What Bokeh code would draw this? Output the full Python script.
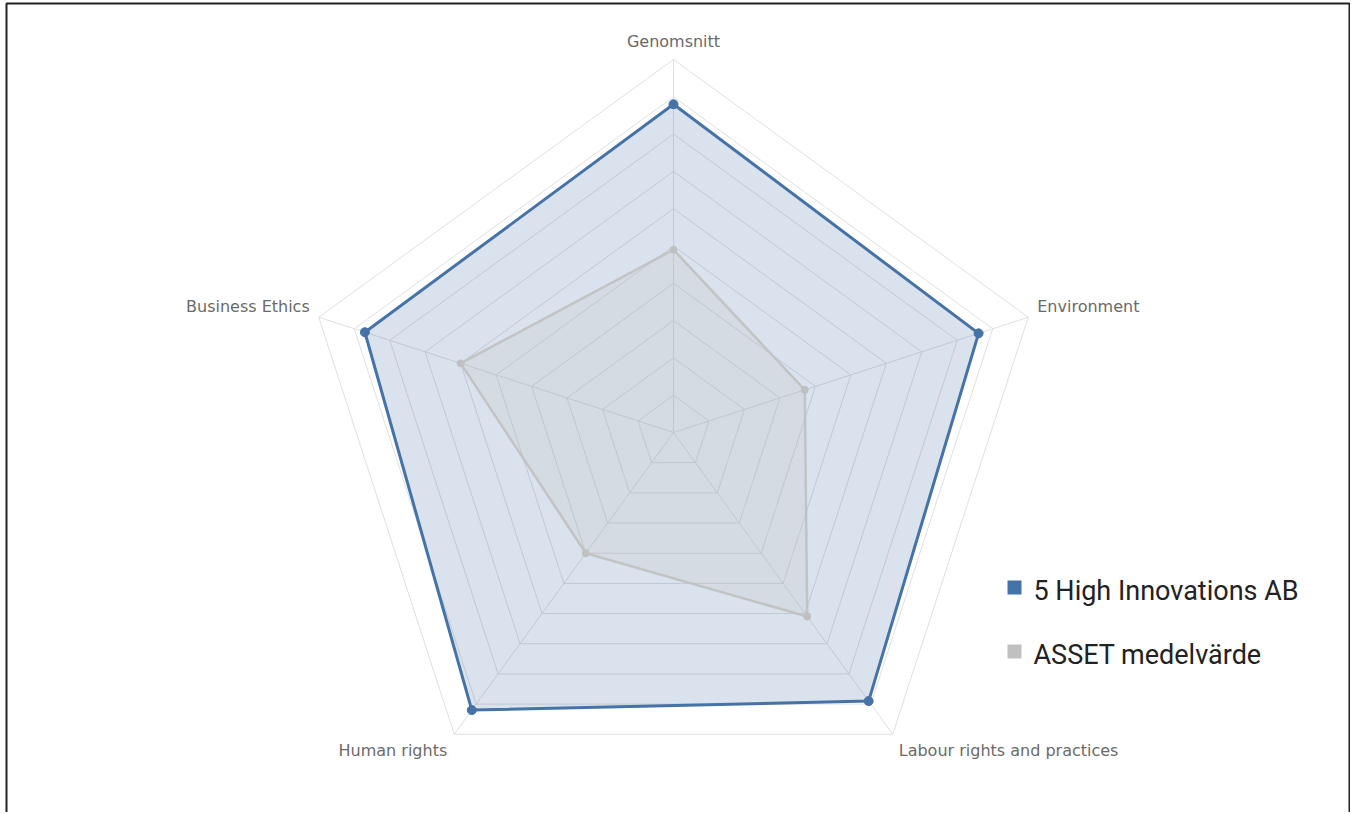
import math
from bokeh.plotting import figure
from bokeh.models import Range1d
from bokeh.core.properties import value
from bokeh.embed import file_html
from bokeh.resources import INLINE

# ---- data ----
categories = ["Genomsnitt", "Environment", "Labour rights and practices", "Human rights", "Business Ethics"]
company_name = "5 High Innovations AB"
company = [8.8, 8.6, 8.9, 9.2, 8.7]
average_name = "ASSET medelvärde"
average = [4.9, 3.7, 6.1, 4.0, 6.0]
scale_max = 10
rings = 10

# ---- layout / style ----
W, H = 1350, 812
CX, CY = 673, 432          # chart centre in canvas pixels
R = 373                    # outer radius in pixels
BLUE = "#4572a7"
GRAY = "#c0c0c0"
GRID = "#e0e0e0"
LABEL_COLOR = "#6a6a6a"

x_range = Range1d(-CX / R, (W - CX) / R)
y_range = Range1d(-(H - CY) / R, CY / R)

p = figure(width=W, height=H, x_range=x_range, y_range=y_range,
           output_backend="svg", toolbar_location=None, min_border=0)
p.axis.visible = False
p.grid.visible = False
p.outline_line_color = None
p.background_fill_color = "white"
p.border_fill_color = "white"

n = len(categories)
angles = [math.pi / 2 - 2 * math.pi * i / n for i in range(n)]


def polar(vals):
    xs = [v / scale_max * math.cos(a) for v, a in zip(vals, angles)]
    ys = [v / scale_max * math.sin(a) for v, a in zip(vals, angles)]
    return xs, ys


# grid rings and spokes
gx, gy = [], []
for k in range(1, rings + 1):
    r = k / rings
    gx.append([r * math.cos(a) for a in angles] + [r * math.cos(angles[0])])
    gy.append([r * math.sin(a) for a in angles] + [r * math.sin(angles[0])])
for a in angles:
    gx.append([0, math.cos(a)])
    gy.append([0, math.sin(a)])
p.multi_line(gx, gy, line_color=GRID, line_width=1)

# series
bx, by = polar(company)
ax, ay = polar(average)

p.patch(bx, by, fill_color=BLUE, fill_alpha=0.2, line_color=None)
p.patch(ax, ay, fill_color=GRAY, fill_alpha=0.2, line_color=None)

p.line(ax + ax[:1], ay + ay[:1], line_color=GRAY, line_width=2.5, alpha=0.9)
p.scatter(ax, ay, size=7, color=GRAY)

p.line(bx + bx[:1], by + by[:1], line_color=BLUE, line_width=3)
p.scatter(bx, by, size=9, color=BLUE)

# category labels (offsets in pixels from the outer vertex)
offsets = [(0, 18, "center"), (9, 11, "left"), (6, -16, "left"), (-7, -16, "right"), (-9, 11, "right")]
for cat, a, (ox, oy, al) in zip(categories, angles, offsets):
    lx = math.cos(a) + ox / R
    ly = math.sin(a) + oy / R
    p.text([lx], [ly], text=[cat], text_align=al, text_baseline="middle",
           text_font=value("DejaVu Sans"), text_font_size="16px", text_color=LABEL_COLOR)

# legend
def px(x):
    return (x - CX) / R


def py(y):
    return (CY - y) / R


legend_items = [(company_name, BLUE, 587), (average_name, GRAY, 651)]
for name, col, ypix in legend_items:
    p.rect([px(1014)], [py(ypix)], width=14 / R, height=14 / R, fill_color=col, line_color=None)
    p.text([px(1033)], [py(ypix + 3)], text=[name], text_align="left", text_baseline="alphabetic",
           text_font=value("Roboto"), text_font_size="27px", text_color="#222222")

# frame border (left, top, right)
e = 1 / R
p.line([x_range.start + 6 * e, x_range.start + 6 * e, x_range.end - e, x_range.end - e],
       [y_range.start, y_range.end - 3 * e, y_range.end - 3 * e, y_range.start],
       line_color="#222222", line_width=2)

open("out.html", "w").write(file_html(p, INLINE))
